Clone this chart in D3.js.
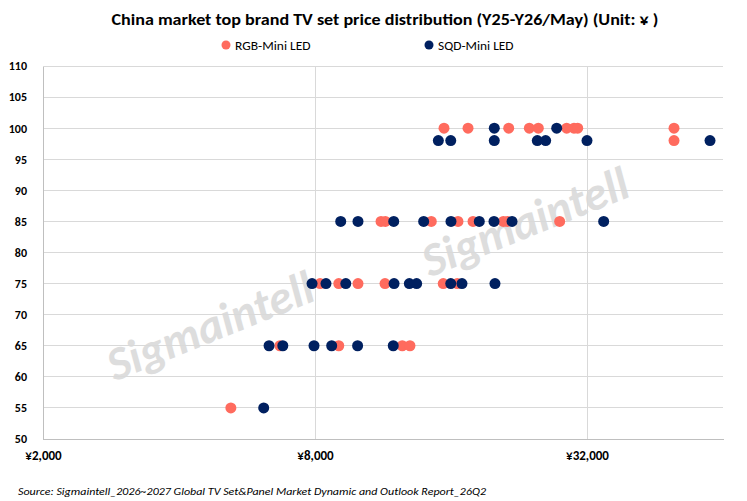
<!DOCTYPE html>
<html><head><meta charset="utf-8">
<script src="https://cdn.jsdelivr.net/npm/d3@7"></script>
<style>body{margin:0;background:#fff}svg{display:block}</style>
</head><body>
<svg id="c" width="747" height="501"></svg>
<script>
const seriesNames = ["RGB-Mini LED", "SQD-Mini LED"];
const seriesColors = ["#FF6B5E", "#002060"];
const rgbPrice = [15440,17450,21470,23850,24970,28850,29950,30520,49860,49860,
  11200,11450,14470,16580,17900,20890,21320,27840,
  8210,9030,9960,11430,15380,16520,
  6690,9030,12480,12980,
  5210];
const rgbSize = [100,100,100,100,100,100,100,100,100,98,
  85,85,85,85,85,85,85,85,
  75,75,75,75,75,75,
  65,65,65,65,
  55];
const sqdPrice = [19950,27420,
  15000,15980,19950,24840,25920,32000,59900,
  9120,9960,11950,13920,16000,18480,19920,21840,34840,
  7880,8460,9360,11970,12940,13430,15980,16920,20020,
  6330,6790,7960,8710,9940,11920,
  6160];
const sqdSize = [100,100,
  98,98,98,98,98,98,98,
  85,85,85,85,85,85,85,85,85,
  75,75,75,75,75,75,75,75,75,
  65,65,65,65,65,65,
  55];
const xTicks = [2000, 8000, 32000];
const yTicks = [50,55,60,65,70,75,80,85,90,95,100,105,110];
const title = "China market top brand TV set price distribution (Y25-Y26/May) (Unit: ¥ )";
const source = "Source: Sigmaintell_2026~2027 Global TV Set&Panel Market Dynamic and Outlook Report_26Q2";

const svg = d3.select("#c");
const font = "Carlito, Lato, 'Open Sans', sans-serif";
const x = d3.scaleLog().base(4).domain([2000, 64000]).range([43, 723]);
const y = d3.scaleLinear().domain([50, 110]).range([439, 66]);

// watermark
[[212, 330], [527, 226]].forEach(([cx, cy]) => {
  svg.append("text").attr("transform", `translate(${cx},${cy}) rotate(-22)`)
    .attr("text-anchor", "middle").attr("dominant-baseline", "middle")
    .style("font-family", font).style("font-size", "47px").style("font-weight", "bold")
    .style("font-style", "italic").style("fill", "#cfcfcf").style("opacity", 0.7)
    .text("Sigmaintell");
});

// gridlines
svg.append("g").selectAll("line").data(yTicks).join("line")
  .attr("x1", 43).attr("x2", 723).attr("y1", d => y(d)).attr("y2", d => y(d))
  .attr("stroke", "#d9d9d9").attr("stroke-width", 1).attr("shape-rendering", "crispEdges");
svg.append("g").selectAll("line").data(xTicks.slice(1)).join("line")
  .attr("x1", d => x(d)).attr("x2", d => x(d)).attr("y1", 66).attr("y2", 439)
  .attr("stroke", "#d9d9d9").attr("stroke-width", 1).attr("shape-rendering", "crispEdges");

// axes
const yAxis = svg.append("g").attr("transform", "translate(43,0)")
  .call(d3.axisLeft(y).tickValues(yTicks).tickSize(0).tickPadding(16));
yAxis.select(".domain").attr("stroke", "#bfbfbf").attr("shape-rendering", "crispEdges");
yAxis.selectAll("text").style("font-family", font).style("font-size", "12px")
  .style("font-weight", "bold").style("fill", "#000");

const xAxis = svg.append("g").attr("transform", "translate(0,439)")
  .call(d3.axisBottom(x).tickValues(xTicks).tickSize(0).tickPadding(12)
    .tickFormat(d => "¥" + d3.format(",")(d)));
xAxis.select(".domain").attr("stroke", "#bfbfbf").attr("shape-rendering", "crispEdges");
xAxis.selectAll("text").style("font-family", font).style("font-size", "13px")
  .style("font-weight", "bold").style("fill", "#000");

// points
const plot = svg.append("g");
plot.selectAll("circle.rgb").data(d3.zip(rgbPrice, rgbSize)).join("circle")
  .attr("class", "rgb").attr("cx", d => x(d[0])).attr("cy", d => y(d[1])).attr("r", 5.5)
  .attr("fill", seriesColors[0]);
plot.selectAll("circle.sqd").data(d3.zip(sqdPrice, sqdSize)).join("circle")
  .attr("class", "sqd").attr("cx", d => x(d[0])).attr("cy", d => y(d[1])).attr("r", 5.5)
  .attr("fill", seriesColors[1]);

// title
svg.append("text").attr("x", 385).attr("y", 25).attr("text-anchor", "middle")
  .style("font-family", font).style("font-size", "15px").style("font-weight", "bold")
  .attr("textLength", 547).attr("lengthAdjust", "spacingAndGlyphs")
  .text(title);

// legend
const legX = [226, 429];
seriesNames.forEach((n, i) => {
  svg.append("circle").attr("cx", legX[i]).attr("cy", 45).attr("r", 4.5).attr("fill", seriesColors[i]);
  svg.append("text").attr("x", legX[i] + 9).attr("y", 49.5)
    .style("font-family", font).style("font-size", "13px")
    .attr("textLength", seriesNames[i].length * 6.3).attr("lengthAdjust", "spacingAndGlyphs")
    .text(n);
});

// source
svg.append("text").attr("x", 18).attr("y", 495)
  .style("font-family", font).style("font-size", "10px").style("font-style", "italic")
  .attr("textLength", 468).attr("lengthAdjust", "spacingAndGlyphs")
  .text(source);
</script>
</body></html>
